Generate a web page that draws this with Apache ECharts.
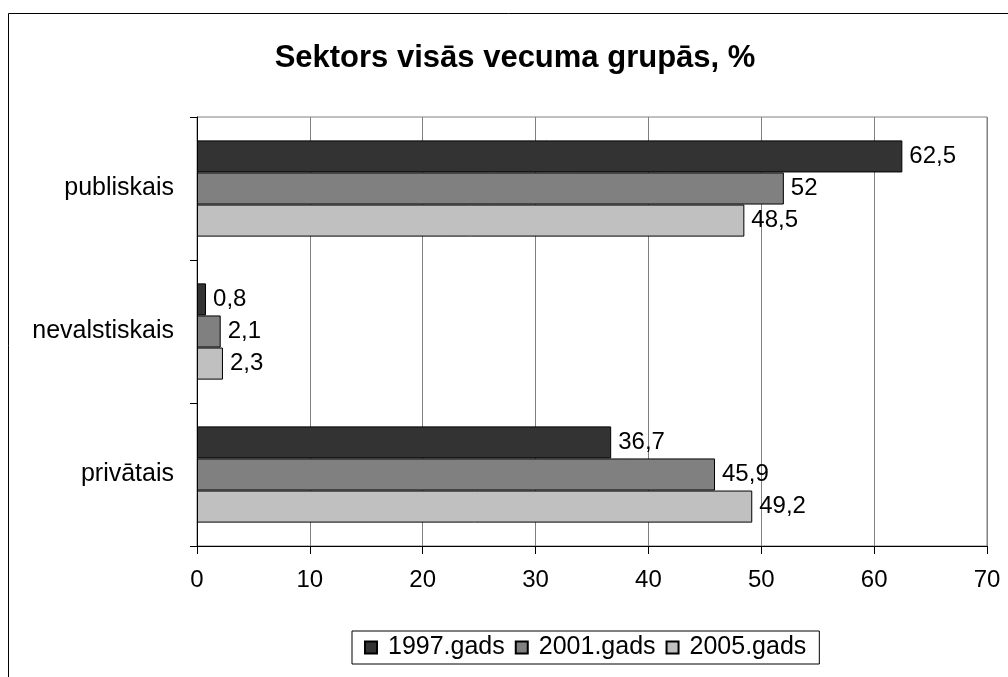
<!DOCTYPE html>
<html>
<head>
<meta charset="utf-8">
<script src="https://cdn.jsdelivr.net/npm/echarts@6/dist/echarts.min.js"></script>
<style>html,body{margin:0;padding:0;background:#fff;}#c{width:1008px;height:677px;}</style>
</head>
<body>
<div id="c"></div>
<script>
const categories = ['publiskais', 'nevalstiskais', 'privātais'];
const seriesNames = ['1997.gads', '2001.gads', '2005.gads'];
const v1997 = [62.5, 0.8, 36.7];
const v2001 = [52, 2.1, 45.9];
const v2005 = [48.5, 2.3, 49.2];
const xTicks = [0, 10, 20, 30, 40, 50, 60, 70];
const colors = ['#333333', '#808080', '#c0c0c0'];

const FONT = '"Liberation Sans", Arial, sans-serif';
const chart = echarts.init(document.getElementById('c'), null, {renderer: 'canvas'});
const values = [v1997, v2001, v2005];
chart.setOption({
  animation: false,
  backgroundColor: '#fff',
  title: {
    text: 'Sektors visās vecuma grupās, %',
    left: 510, textAlign: 'center', top: 38,
    textStyle: {fontFamily: FONT, fontSize: 31, fontWeight: 'bold', color: '#000'}
  },
  graphic: [{
    type: 'rect', shape: {x: 8.5, y: 13.5, width: 1100, height: 800},
    style: {fill: 'none', stroke: '#000', lineWidth: 1}, silent: true, z: -1
  }],
  legend: {
    left: 352, top: 631,
    data: seriesNames,
    itemWidth: 12, itemHeight: 12, itemGap: 10,
    padding: [4, 13, 4, 12],
    borderColor: '#000', borderWidth: 1,
    icon: 'rect',
    textStyle: {fontFamily: FONT, fontSize: 25, color: '#000', padding: [0, 0, 0, 6]}
  },
  grid: {left: 197, right: 21, top: 117, bottom: 131, show: true, borderColor: '#808080', borderWidth: 1, containLabel: false},
  xAxis: {
    type: 'value', min: 0, max: 70, interval: 10,
    axisLine: {show: true, lineStyle: {color: '#000', width: 1}},
    axisTick: {show: true, length: 8, lineStyle: {color: '#000'}},
    splitLine: {show: true, lineStyle: {color: '#808080', width: 1}},
    axisLabel: {fontFamily: FONT, fontSize: 24, color: '#000', margin: 22,
      formatter: v => xTicks.includes(v) ? String(v) : ''}
  },
  yAxis: {
    type: 'category', data: categories, inverse: true,
    axisLine: {show: true, lineStyle: {color: '#000', width: 1}},
    axisTick: {show: true, length: 7, inside: false, lineStyle: {color: '#000'}},
    axisLabel: {fontFamily: FONT, fontSize: 25, color: '#000', margin: 23}
  },
  series: seriesNames.map((n, i) => ({
    name: n, type: 'bar', data: values[i],
    barGap: '0%', barCategoryGap: '32.7%',
    itemStyle: {color: colors[i], borderColor: '#000', borderWidth: 1},
    label: {show: true, position: 'right', distance: 7, fontFamily: FONT, fontSize: 24, color: '#000',
      formatter: p => String(p.value).replace('.', ',')}
  }))
});
</script>
</body>
</html>
